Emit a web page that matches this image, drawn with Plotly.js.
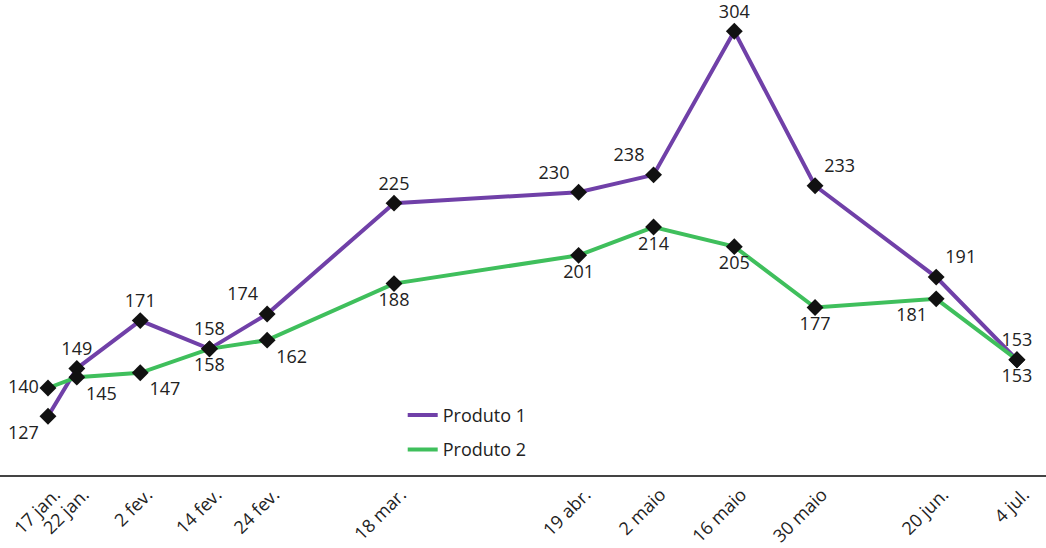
<!DOCTYPE html>
<html>
<head>
<meta charset="utf-8">
<script src="https://cdn.plot.ly/plotly-3.0.1.min.js"></script>
<style>
  body { margin: 0; background: #fff; }
  #chart { width: 1046px; height: 548px; }
</style>
</head>
<body>
<div id="chart"></div>
<script>
const dates = ['2023-01-17', '2023-01-22', '2023-02-02', '2023-02-14', '2023-02-24', '2023-03-18',
               '2023-04-19', '2023-05-02', '2023-05-16', '2023-05-30', '2023-06-20', '2023-07-04'];
const tick_labels = ['17 jan.', '22 jan.', '2 fev.', '14 fev.', '24 fev.', '18 mar.',
                     '19 abr.', '2 maio', '16 maio', '30 maio', '20 jun.', '4 jul.'];
const produto1 = [127, 149, 171, 158, 174, 225, 230, 238, 304, 233, 191, 153];
const produto2 = [140, 145, 147, 158, 162, 188, 201, 214, 205, 177, 181, 153];

// where each value label sits relative to its marker
const pos1 = ['bottom left', 'top center', 'top center', 'top center', 'top left', 'top center',
              'top left', 'top left', 'top center', 'top right', 'top right', 'top center'];
const pos2 = ['middle left', 'bottom right', 'bottom right', 'bottom center', 'bottom right', 'bottom center',
              'bottom center', 'bottom center', 'bottom center', 'bottom center', 'bottom left', 'bottom center'];

const purple = '#7040a8';
const green = '#3fbf5c';
const FONT = 'Open Sans, Noto Sans, sans-serif';

function line_trace(name, y, color, group) {
    return {
        x: dates, y: y, name: name, type: 'scatter', mode: 'lines',
        line: {color: color, width: 4},
        legendgroup: group,
    };
}

function marker_trace(y, pos) {
    return {
        x: dates, y: y, type: 'scatter', mode: 'markers+text',
        text: y.map(String), textposition: pos,
        textfont: {family: FONT, size: 18, color: '#222'},
        marker: {symbol: 'diamond', size: 13, color: '#111'},
        showlegend: false, hoverinfo: 'skip', cliponaxis: false,
    };
}

const data = [
    line_trace('Produto 1', produto1, purple, 'g1'),
    line_trace('Produto 2', produto2, green, 'g2'),
    marker_trace(produto1, pos1),
    marker_trace(produto2, pos2),
];

const layout = {
    width: 1046, height: 548,
    margin: {t: 15, l: 0, r: 0, b: 73},
    paper_bgcolor: '#fff', plot_bgcolor: '#fff',
    font: {family: FONT, size: 18, color: '#222'},
    showlegend: true,
    legend: {x: 0.385, y: 0.17, xanchor: 'left', yanchor: 'top',
             font: {family: FONT, size: 18, color: '#222'}, tracegroupgap: 8,
             bgcolor: 'rgba(0,0,0,0)'},
    xaxis: {
        type: 'date',
        range: ['2023-01-08 16:20', '2023-07-09 01:00'],
        tickvals: dates, ticktext: tick_labels, tickangle: -45,
        ticklabelshift: 7,
        showgrid: false, zeroline: false,
        showline: true, linecolor: '#444', linewidth: 2,
        ticks: '', tickfont: {family: FONT, size: 18, color: '#222'},
    },
    yaxis: {range: [100, 311.5], visible: false, showgrid: false, zeroline: false},
};

Plotly.newPlot('chart', data, layout, {staticPlot: true, displayModeBar: false});
</script>
</body>
</html>
